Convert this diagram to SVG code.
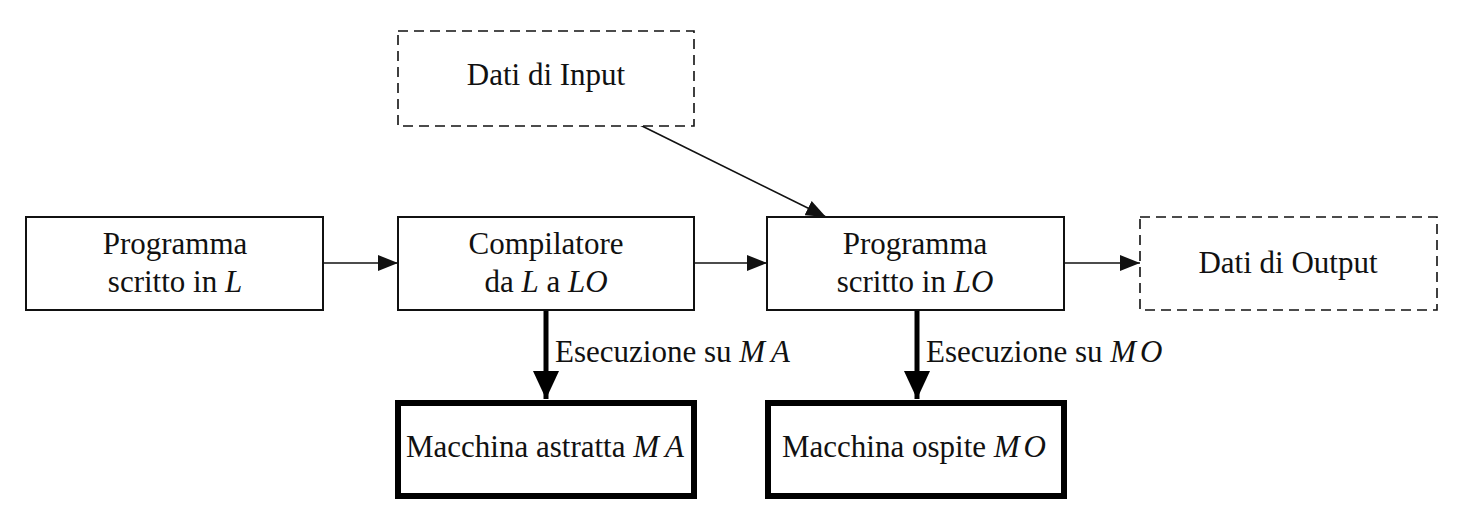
<svg xmlns="http://www.w3.org/2000/svg" width="1467" height="528" viewBox="0 0 1467 528">
<style>
text{font-family:"Liberation Serif","Times New Roman",serif;font-size:31px;fill:#111;text-anchor:middle}
.it{font-style:italic}
.lbl{text-anchor:start}
.box{fill:#fff;stroke:#111;stroke-width:2}
.dash{fill:#fff;stroke:#111;stroke-width:1.6;stroke-dasharray:10 6}
.thick{fill:#fff;stroke:#000;stroke-width:6}
.thin{stroke:#111;stroke-width:1.6;fill:none}
.fat{stroke:#000;stroke-width:5;fill:none}
</style>
<defs>
<marker id="ah" markerUnits="userSpaceOnUse" markerWidth="20" markerHeight="16" refX="20" refY="8" orient="auto"><path d="M0,0 L20,8 L0,16 Z" fill="#111"/></marker>
<marker id="ahb" markerUnits="userSpaceOnUse" markerWidth="28" markerHeight="26" refX="28" refY="13" orient="auto"><path d="M0,0 L28,13 L0,26 Z" fill="#000"/></marker>
</defs>
<g id="connectors">
<line class="thin" x1="323" y1="263" x2="398" y2="263" marker-end="url(#ah)"/>
<line class="thin" x1="694" y1="263" x2="767" y2="263" marker-end="url(#ah)"/>
<line class="thin" x1="1064" y1="263" x2="1140" y2="263" marker-end="url(#ah)"/>
<line class="thin" x1="640" y1="125" x2="826" y2="217" marker-end="url(#ah)"/>
<line class="fat" x1="546" y1="310" x2="546" y2="399" marker-end="url(#ahb)"/>
<line class="fat" x1="917" y1="310" x2="917" y2="399" marker-end="url(#ahb)"/>
<text class="lbl" x="555" y="362">Esecuzione su <tspan class="it">M</tspan><tspan class="it" dx="6">A</tspan></text>
<text class="lbl" x="926" y="362">Esecuzione su <tspan class="it">M</tspan><tspan class="it" dx="4">O</tspan></text>
</g>
<g id="n-input">
<rect class="dash" x="398" y="31" width="296" height="95"/>
<text x="546" y="85">Dati di Input</text>
</g>
<g id="n-progL">
<rect class="box" x="26" y="217" width="297" height="93"/>
<text x="175" y="254">Programma</text>
<text x="175" y="292">scritto in <tspan class="it">L</tspan></text>
</g>
<g id="n-comp">
<rect class="box" x="398" y="217" width="296" height="93"/>
<text x="546" y="254">Compilatore</text>
<text x="546" y="292">da <tspan class="it">L</tspan> a <tspan class="it">LO</tspan></text>
</g>
<g id="n-progLO">
<rect class="box" x="767" y="217" width="297" height="93"/>
<text x="915" y="254">Programma</text>
<text x="915" y="292">scritto in <tspan class="it">LO</tspan></text>
</g>
<g id="n-output">
<rect class="dash" x="1140" y="217" width="297" height="93"/>
<text x="1288" y="273">Dati di Output</text>
</g>
<g id="n-MA">
<rect class="thick" x="398" y="403" width="296" height="93"/>
<text x="545" y="457">Macchina astratta <tspan class="it">M</tspan><tspan class="it" dx="6">A</tspan></text>
</g>
<g id="n-MO">
<rect class="thick" x="768" y="403" width="296" height="93"/>
<text x="914" y="457">Macchina ospite <tspan class="it">M</tspan><tspan class="it" dx="4">O</tspan></text>
</g>
</svg>
